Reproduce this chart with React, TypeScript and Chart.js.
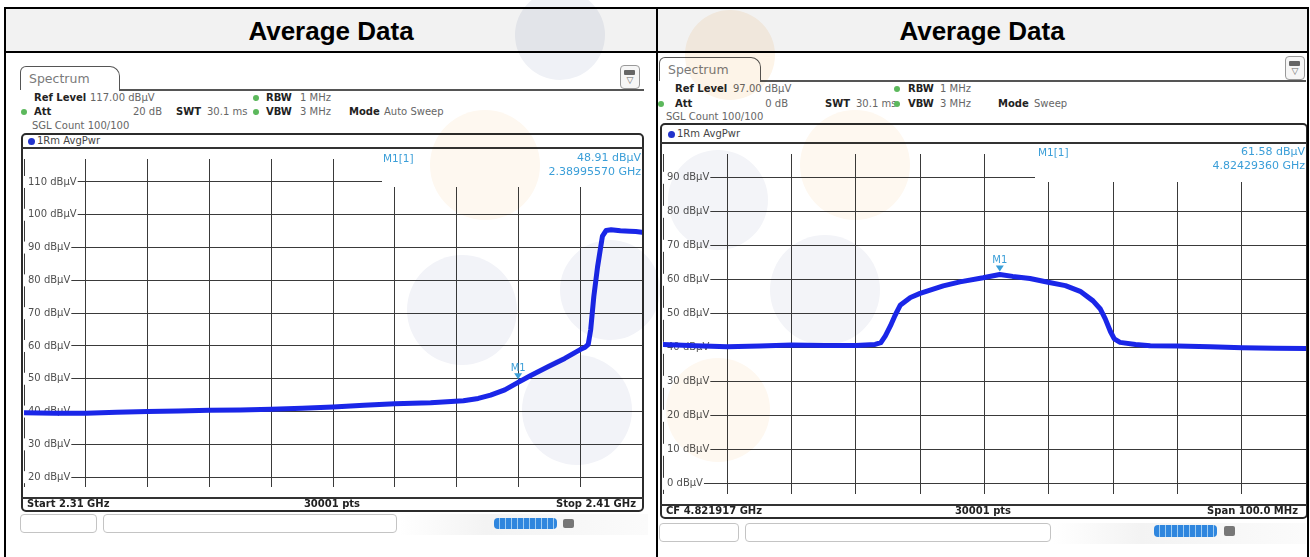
import React, { useEffect, useRef } from "react";
import { Chart, registerables } from "chart.js";

Chart.register(...registerables);

// ---------------- data ----------------
const leftFreqGHz = [2.310, 2.315, 2.320, 2.325, 2.330, 2.335, 2.340, 2.345, 2.350, 2.355, 2.360, 2.365, 2.370, 2.3758, 2.3811, 2.3835, 2.3855, 2.3878, 2.38996, 2.3920, 2.3947, 2.3975, 2.4000, 2.4008, 2.4013, 2.4017, 2.4022, 2.4028, 2.4033, 2.4036, 2.4042, 2.4050, 2.4065, 2.4080, 2.4090, 2.4100];
const leftLevelDbuv = [39.6, 39.5, 39.5, 39.8, 40.0, 40.2, 40.4, 40.5, 40.7, 41.0, 41.4, 41.9, 42.4, 42.7, 43.3, 44.0, 45.0, 46.6, 48.9, 51.0, 53.6, 56.2, 58.9, 59.6, 60.5, 65.0, 75.0, 84.0, 90.0, 93.5, 95.2, 95.4, 95.1, 95.0, 94.9, 94.7];
const leftMarkerFreqGHz = [2.3899557];
const leftMarkerLevelDbuv = [48.91];
const leftYTicks = [20, 30, 40, 50, 60, 70, 80, 90, 100, 110];
const leftXRange = [2.31, 2.41];
const leftYRange = [17, 117];

const rightFreqGHz = [4.7719, 4.7770, 4.7819, 4.7870, 4.7919, 4.7970, 4.8019, 4.8049, 4.8058, 4.8065, 4.8073, 4.8080, 4.8088, 4.8104, 4.8119, 4.8155, 4.8181, 4.8217, 4.82429, 4.8263, 4.8290, 4.8318, 4.8345, 4.8368, 4.8388, 4.8399, 4.8407, 4.8415, 4.8421, 4.8430, 4.8454, 4.8477, 4.8519, 4.8570, 4.8620, 4.8671, 4.8719];
const rightLevelDbuv = [41.0, 40.6, 40.3, 40.5, 40.8, 40.7, 40.7, 41.0, 41.5, 43.5, 46.5, 49.5, 52.5, 54.8, 56.0, 58.2, 59.4, 60.6, 61.58, 61.0, 60.4, 59.3, 58.3, 56.6, 53.8, 51.5, 48.5, 44.8, 42.6, 41.6, 41.0, 40.6, 40.5, 40.3, 40.0, 39.9, 39.8];
const rightMarkerFreqGHz = [4.8242936];
const rightMarkerLevelDbuv = [61.58];
const rightYTicks = [0, 10, 20, 30, 40, 50, 60, 70, 80, 90];
const rightXRange = [4.771917, 4.871917];
const rightYRange = [-3, 97];

// ---------------- styles ----------------
const FONT = '"DejaVu Sans", Verdana, sans-serif';
const TRACE = "#1a26e8";
const GRID = "#3a3a3a";
const MARKER = "#3a9ed8";

const readoutPlugin = {
  id: "readout",
  beforeDatasetsDraw(chart: any, _a: any, opts: any) {
    const { ctx, chartArea } = chart;
    ctx.save();
    ctx.fillStyle = "#ffffff";
    ctx.fillRect(chartArea.left + opts.left, chartArea.top, chartArea.right - chartArea.left - opts.left + 2, opts.height);
    ctx.restore();
  },
  afterDatasetsDraw(chart: any) {
    const ctx = chart.ctx;
    const meta = chart.getDatasetMeta(1);
    meta.data.forEach((pt: any) => {
      const x = pt.x;
      const y = pt.y;
      ctx.save();
      ctx.fillStyle = MARKER;
      ctx.beginPath();
      ctx.moveTo(x - 4, y - 9);
      ctx.lineTo(x + 4, y - 9);
      ctx.lineTo(x, y - 3);
      ctx.closePath();
      ctx.fill();
      ctx.font = '10px "DejaVu Sans"';
      ctx.textAlign = "center";
      ctx.textBaseline = "middle";
      ctx.fillText("M1", x, y - 14);
      ctx.restore();
    });
  },
};

function TracePlot(props: any) {
  const { freq, level, mFreq, mLevel, xRange, yRange, yTicks, box, roLeft, roHeight } = props;
  const ref = useRef<HTMLCanvasElement>(null);
  useEffect(() => {
    const canvas = ref.current as HTMLCanvasElement;
    const xTicks = Array.from({ length: 11 }, (_, i) => xRange[0] + ((xRange[1] - xRange[0]) * i) / 10);
    const chart = new Chart(canvas, {
      type: "line",
      data: {
        datasets: [
          {
            data: freq.map((f: number, i: number) => ({ x: f, y: level[i] })),
            borderColor: TRACE,
            borderWidth: 5,
            pointRadius: 0,
            tension: 0,
            borderJoinStyle: "round",
            borderCapStyle: "round",
          },
          {
            data: mFreq.map((f: number, i: number) => ({ x: f, y: mLevel[i] })),
            showLine: false,
            pointRadius: 0,
            pointHoverRadius: 0,
          },
        ],
      },
      options: {
        animation: false,
        responsive: false,
        devicePixelRatio: 1,
        events: [],
        layout: { padding: 0 },
        plugins: {
          legend: { display: false },
          tooltip: { enabled: false },
          readout: { left: roLeft, height: roHeight },
        } as any,
        scales: {
          x: {
            type: "linear",
            min: xRange[0],
            max: xRange[1],
            afterBuildTicks: (s: any) => {
              s.ticks = xTicks.map((v) => ({ value: v }));
            },
            afterFit: (s: any) => {
              s.height = 0;
            },
            ticks: { display: false },
            grid: { color: GRID, lineWidth: 1, drawTicks: false },
            border: { display: false },
          },
          y: {
            type: "linear",
            min: yRange[0],
            max: yRange[1],
            afterBuildTicks: (s: any) => {
              s.ticks = yTicks.map((v: number) => ({ value: v }));
            },
            afterFit: (s: any) => {
              s.width = 0;
            },
            ticks: {
              mirror: true,
              padding: 4,
              color: "#505050",
              font: { family: "DejaVu Sans", size: 10 },
              callback: (v: any) => `${v} dBµV`,
              showLabelBackdrop: true,
              backdropColor: "#ffffff",
              backdropPadding: { left: 5, right: 1, top: 0, bottom: 0 },
            },
            grid: { color: GRID, lineWidth: 1, drawTicks: false },
            border: { display: false },
          },
        },
      } as any,
      plugins: [readoutPlugin as any],
    });
    return () => chart.destroy();
  }, []);
  return (
    <canvas
      ref={ref}
      width={box.w}
      height={box.h}
      style={{ position: "absolute", left: box.x, top: box.y, width: box.w, height: box.h }}
    />
  );
}

function Txt(props: any) {
  const { x, y, align = "left", size = 10, bold = false, color = "#333", children, family = FONT } = props;
  const w = 400;
  let left = x;
  if (align === "right") left = x - w;
  else if (align === "center") left = x - w / 2;
  return (
    <div
      style={{
        position: "absolute",
        left,
        top: y - 8,
        width: align === "left" ? undefined : w,
        height: 16,
        lineHeight: "16px",
        textAlign: align,
        fontSize: size,
        fontWeight: bold ? "bold" : "normal",
        color,
        fontFamily: family,
        whiteSpace: "nowrap",
      }}
    >
      {children}
    </div>
  );
}

function Dot(props: any) {
  const { x, y, color = "#5cb85c", r = 3 } = props;
  return (
    <div
      style={{ position: "absolute", left: x - r, top: y - r, width: r * 2, height: r * 2, borderRadius: "50%", background: color }}
    />
  );
}

function Abs(props: any) {
  return <div style={{ position: "absolute", ...props.s }}>{props.children}</div>;
}

function SpectrumPanel(props: any) {
  const c = props.c;
  const [r1, r2, r3] = c.rows;
  const lab = "#222";
  const val = "#666";
  return (
    <>
      {/* tab */}
      <Abs
        s={{
          left: c.tab.x,
          top: c.tab.y,
          width: c.tab.w,
          height: c.tab.h,
          border: "1.5px solid #555",
          borderBottom: "none",
          borderRadius: "6px 10px 0 0",
          boxSizing: "border-box",
          background: "#fff",
        }}
      />
      <Txt x={c.tab.x + 9} y={c.tab.y + c.tab.h / 2 + 1} size={12.5} color="#7a7a7a">Spectrum</Txt>
      <Abs s={{ left: c.tab.x + c.tab.w - 1, top: c.tab.y + c.tab.h - 1, width: c.lineRight - (c.tab.x + c.tab.w - 1), height: 1.5, background: "#555" }} />
      {/* icon */}
      <Abs
        s={{ left: c.icon.x, top: c.icon.y, width: 20, height: 24, border: "1px solid #999", borderRadius: 4, boxSizing: "border-box", background: "#f6f6f6" }}
      />
      <Abs s={{ left: c.icon.x + 4, top: c.icon.y + 5, width: 11, height: 5, background: "#666", borderRadius: 1 }} />
      <Txt x={c.icon.x + 10} y={c.icon.y + 15} align="center" size={9} color="#666">▽</Txt>
      {/* settings rows */}
      <Txt x={c.refX} y={r1} bold color={lab}>Ref Level</Txt>
      <Txt x={c.refValX} y={r1} color={val}>{c.refVal}</Txt>
      <Dot x={c.dotX} y={r1} />
      <Txt x={c.rbwX} y={r1} bold color={lab}>RBW</Txt>
      <Txt x={c.rbwValX} y={r1} color={val}>1 MHz</Txt>

      <Dot x={c.attDotX} y={r2} />
      <Txt x={c.refX} y={r2} bold color={lab}>Att</Txt>
      <Txt x={c.attValRight} y={r2} align="right" color={val}>{c.attVal}</Txt>
      <Txt x={c.swtX} y={r2} bold color={lab}>SWT</Txt>
      <Txt x={c.swtValX} y={r2} color={val}>30.1 ms</Txt>
      <Dot x={c.dotX} y={r2} />
      <Txt x={c.rbwX} y={r2} bold color={lab}>VBW</Txt>
      <Txt x={c.rbwValX} y={r2} color={val}>3 MHz</Txt>
      <Txt x={c.modeX} y={r2} bold color={lab}>Mode</Txt>
      <Txt x={c.modeValX} y={r2} color={val}>{c.modeVal}</Txt>

      <Txt x={c.sglX} y={r3} color={val}>SGL Count 100/100</Txt>

      {/* diagram box */}
      <Abs
        s={{
          left: c.box.x,
          top: c.box.y,
          width: c.box.w,
          height: c.box.h,
          border: "2px solid #2b2b2b",
          borderRadius: 5,
          boxSizing: "border-box",
          background: "#fff",
        }}
      />
      <Dot x={c.hdrDotX} y={c.hdrY} color="#2233cc" r={3.5} />
      <Txt x={c.hdrTextX} y={c.hdrY} size={10} color="#444">1Rm AvgPwr</Txt>
      <Abs s={{ left: c.box.x, top: c.plot.y - 2, width: c.box.w, height: 2, background: "#333" }} />
      <Abs s={{ left: c.box.x, top: c.plot.y + c.plot.h, width: c.box.w, height: 1.5, background: "#333" }} />

      <TracePlot
        freq={c.freq}
        level={c.level}
        mFreq={c.mFreq}
        mLevel={c.mLevel}
        xRange={c.xRange}
        yRange={c.yRange}
        yTicks={c.yTicks}
        box={c.plot}
        roLeft={c.ro.boxLeft}
        roHeight={c.ro.boxH}
      />

      {/* marker readout */}
      <Txt x={c.ro.m1X} y={c.ro.y1} size={10.5} color={MARKER}>M1[1]</Txt>
      <Txt x={c.ro.rightX} y={c.ro.y1} align="right" size={11} color={MARKER}>{c.ro.val}</Txt>
      <Txt x={c.ro.rightX} y={c.ro.y2} align="right" size={11} color={MARKER}>{c.ro.freq}</Txt>

      {/* footer */}
      <Txt x={c.footLeftX} y={c.footY} bold size={10} color="#222">{c.footL}</Txt>
      <Txt x={c.footCenterX} y={c.footY} bold size={10} align="center" color="#222">30001 pts</Txt>
      <Txt x={c.footRightX} y={c.footY} bold size={10} align="right" color="#222">{c.footR}</Txt>

      {/* status widgets */}
      <Abs
        s={{ left: c.wd.r1[0], top: c.wd.y, width: c.wd.r1[1] - c.wd.r1[0], height: c.wd.h, border: "1px solid #c4c4c4", borderRadius: 4, boxSizing: "border-box" }}
      />
      <Abs
        s={{ left: c.wd.r2[0], top: c.wd.y, width: c.wd.r2[1] - c.wd.r2[0], height: c.wd.h, border: "1px solid #c4c4c4", borderRadius: 4, boxSizing: "border-box" }}
      />
      <Abs
        s={{ left: c.wd.r2[1] + 2, top: c.wd.y, width: c.wd.gEnd - c.wd.r2[1] - 2, height: c.wd.h + 2, background: "linear-gradient(90deg, #ffffff 0%, #f3f3f3 35%, #fbfbfb 100%)" }}
      />
      <Abs
        s={{
          left: c.wd.bar[0],
          top: c.wd.barY,
          width: c.wd.bar[1] - c.wd.bar[0],
          height: c.wd.barH,
          borderRadius: 4,
          background: "repeating-linear-gradient(90deg, #2f86de 0px, #2f86de 5px, #9fcdf3 5px, #9fcdf3 6px)",
        }}
      />
      <Abs s={{ left: c.wd.icon, top: c.wd.barY + 1, width: 11, height: c.wd.barH - 2, background: "#777", borderRadius: 2 }} />
    </>
  );
}

const leftCfg = {
  freq: leftFreqGHz,
  level: leftLevelDbuv,
  mFreq: leftMarkerFreqGHz,
  mLevel: leftMarkerLevelDbuv,
  xRange: leftXRange,
  yRange: leftYRange,
  yTicks: leftYTicks,
  tab: { x: 20, y: 66, w: 100, h: 24 },
  lineRight: 644,
  icon: { x: 620, y: 65 },
  rows: [98, 112, 126],
  refX: 34,
  refValX: 90,
  refVal: "117.00 dBµV",
  attDotX: 24,
  attValRight: 162,
  attVal: "20 dB",
  swtX: 176,
  swtValX: 207,
  dotX: 256,
  rbwX: 266,
  rbwValX: 300,
  modeX: 349,
  modeValX: 384,
  modeVal: "Auto Sweep",
  sglX: 32,
  box: { x: 21, y: 133, w: 623, h: 379 },
  hdrY: 141,
  hdrDotX: 31,
  hdrTextX: 37,
  plot: { x: 24, y: 149, w: 618, h: 348 },
  footY: 504,
  footLeftX: 27,
  footCenterX: 332,
  footRightX: 636,
  footL: "Start 2.31 GHz",
  footR: "Stop 2.41 GHz",
  ro: { m1X: 383, y1: 158, y2: 172, rightX: 641, val: "48.91 dBµV", freq: "2.38995570 GHz", boxLeft: 358, boxH: 28 },
  wd: { y: 514, h: 19, r1: [20, 97], r2: [103, 397], gEnd: 648, bar: [494, 557], barY: 518, barH: 11, icon: 563 },
};

const rightCfg = {
  freq: rightFreqGHz,
  level: rightLevelDbuv,
  mFreq: rightMarkerFreqGHz,
  mLevel: rightMarkerLevelDbuv,
  xRange: rightXRange,
  yRange: rightYRange,
  yTicks: rightYTicks,
  tab: { x: 659, y: 57, w: 102, h: 24 },
  lineRight: 1306,
  icon: { x: 1285, y: 56 },
  rows: [89, 104, 117],
  refX: 675,
  refValX: 733,
  refVal: "97.00 dBµV",
  attDotX: 661,
  attValRight: 788,
  attVal: "0 dB",
  swtX: 825,
  swtValX: 856,
  dotX: 897,
  rbwX: 908,
  rbwValX: 940,
  modeX: 998,
  modeValX: 1034,
  modeVal: "Sweep",
  sglX: 666,
  box: { x: 660, y: 123, w: 648, h: 396 },
  hdrY: 134,
  hdrDotX: 671,
  hdrTextX: 677,
  plot: { x: 663, y: 144, w: 643, h: 360 },
  footY: 511,
  footLeftX: 666,
  footCenterX: 983,
  footRightX: 1298,
  footL: "CF 4.821917 GHz",
  footR: "Span 100.0 MHz",
  ro: { m1X: 1038, y1: 152, y2: 166, rightX: 1305, val: "61.58 dBµV", freq: "4.82429360 GHz", boxLeft: 372, boxH: 28 },
  wd: { y: 523, h: 19, r1: [659, 739], r2: [745, 1051], gEnd: 1306, bar: [1154, 1217], barY: 525, barH: 12, icon: 1224 },
};

const watermarks = [
  { x: 560, y: 35, r: 45, c: "#eff1f6" },
  { x: 485, y: 165, r: 55, c: "#fef8f0" },
  { x: 462, y: 310, r: 55, c: "#f2f3f8" },
  { x: 610, y: 290, r: 50, c: "#f2f3f8" },
  { x: 577, y: 410, r: 55, c: "#f2f3f8" },
  { x: 730, y: 55, r: 45, c: "#fdf4e8" },
  { x: 855, y: 165, r: 55, c: "#fef8f0" },
  { x: 718, y: 200, r: 50, c: "#f3f4f8" },
  { x: 825, y: 290, r: 55, c: "#f3f4f8" },
  { x: 718, y: 410, r: 52, c: "#fef8f0" },
];

export default function App() {
  const B = "#000";
  return (
    <div
      style={{
        position: "absolute",
        left: 0,
        top: 0,
        width: 1310,
        height: 557,
        overflow: "hidden",
        background: "#fff",
        fontFamily: FONT,
      }}
    >
      {/* table header */}
      <Abs s={{ left: 6, top: 9, width: 1301, height: 43, background: "#f2f2f2" }} />
      <Txt x={331} y={31} align="center" size={26} bold color="#000" family='"Liberation Sans", Arial, sans-serif'>
        Average Data
      </Txt>
      <Txt x={982} y={31} align="center" size={26} bold color="#000" family='"Liberation Sans", Arial, sans-serif'>
        Average Data
      </Txt>

      <SpectrumPanel c={leftCfg} />
      <SpectrumPanel c={rightCfg} />

      {/* faint watermark */}
      {watermarks.map((w, i) => (
        <div
          key={i}
          style={{
            position: "absolute",
            left: w.x - w.r,
            top: w.y - w.r,
            width: w.r * 2,
            height: w.r * 2,
            borderRadius: "50%",
            background: w.c,
            mixBlendMode: "multiply",
            pointerEvents: "none",
          }}
        />
      ))}

      {/* table borders */}
      <Abs s={{ left: 4, top: 7, width: 1305, height: 2, background: B }} />
      <Abs s={{ left: 4, top: 51, width: 1305, height: 2, background: B }} />
      <Abs s={{ left: 4, top: 7, width: 2, height: 560, background: B }} />
      <Abs s={{ left: 656, top: 7, width: 2, height: 560, background: B }} />
      <Abs s={{ left: 1307, top: 7, width: 2, height: 560, background: B }} />
    </div>
  );
}
